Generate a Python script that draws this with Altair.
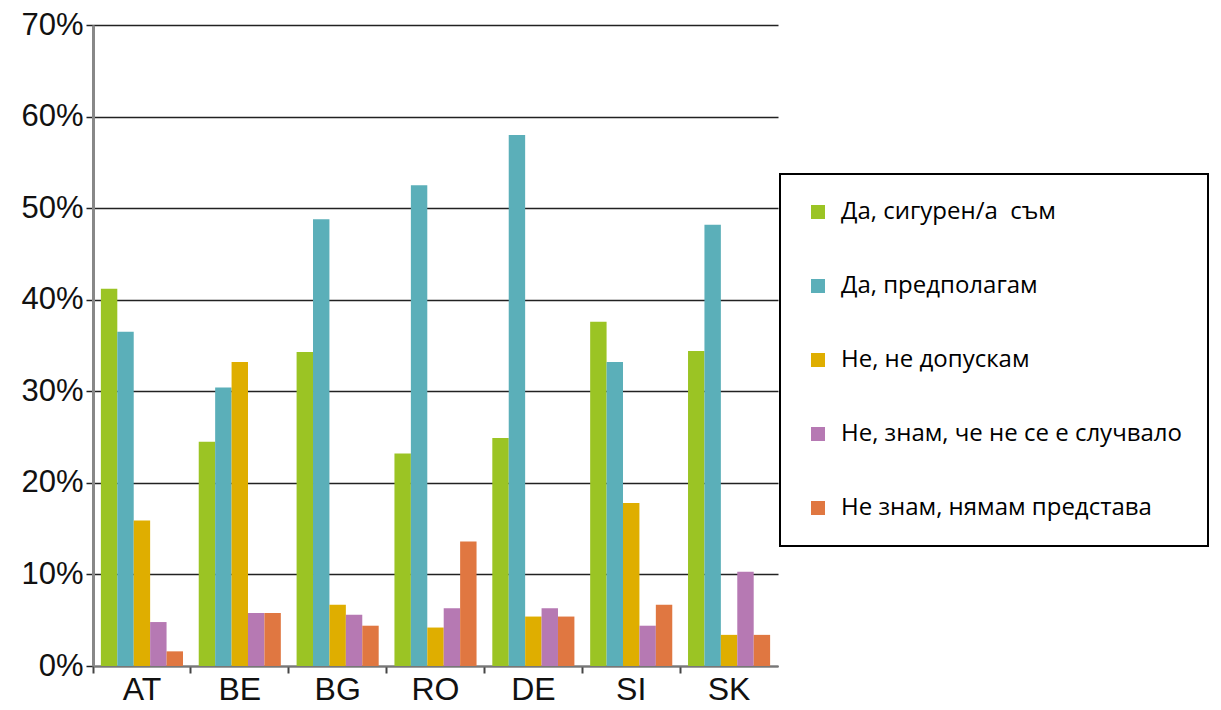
import altair as alt
import pandas as pd

countries = ["AT", "BE", "BG", "RO", "DE", "SI", "SK"]
series = [
    "Да, сигурен/а\u00a0 съм",
    "Да, предполагам",
    "Не, не допускам",
    "Не, знам, че не се е случвало",
    "Не знам, нямам представа",
]
sure_yes = [41.2, 24.5, 34.3, 23.2, 24.9, 37.6, 34.4]
suppose_yes = [36.5, 30.4, 48.8, 52.5, 58.0, 33.2, 48.2]
no_allow = [15.9, 33.2, 6.7, 4.2, 5.4, 17.8, 3.4]
no_know = [4.8, 5.8, 5.6, 6.3, 6.3, 4.4, 10.3]
dont_know = [1.6, 5.8, 4.4, 13.6, 5.4, 6.7, 3.4]
colors = ["#9BC424", "#5BAFB9", "#DFAE00", "#B679B3", "#E07741"]

values = [sure_yes, suppose_yes, no_allow, no_know, dont_know]
rows = []
for s, vals in zip(series, values):
    for c, v in zip(countries, vals):
        rows.append({"country": c, "answer": s, "value": v / 100.0})
df = pd.DataFrame(rows)

chart = (
    alt.Chart(df)
    .mark_bar()
    .encode(
        x=alt.X(
            "country:N",
            sort=countries,
            title=None,
            scale=alt.Scale(paddingInner=0, paddingOuter=0),
            axis=alt.Axis(
                labelAngle=0,
                bandPosition=0,
                labelFont="Liberation Sans",
                labelFontSize=32,
                labelColor="#111",
                labelPadding=1,
                tickSize=7,
                tickColor="#444",
                tickWidth=2,
                domainColor="#777",
                domainWidth=2,
                grid=False,
            ),
        ),
        xOffset=alt.XOffset(
            "answer:N",
            sort=series,
            scale=alt.Scale(paddingInner=0, paddingOuter=0.48),
        ),
        y=alt.Y(
            "value:Q",
            title=None,
            scale=alt.Scale(domain=[0, 0.7], nice=False),
            axis=alt.Axis(
                format=".0%",
                values=[0, 0.1, 0.2, 0.3, 0.4, 0.5, 0.6, 0.7],
                labelFont="Liberation Sans",
                labelFontSize=31,
                labelColor="#111",
                labelPadding=3,
                tickSize=7,
                tickColor="#222",
                tickWidth=1.5,
                domainColor="#888",
                domainWidth=3,
                grid=True,
                gridColor="#222",
                gridWidth=1.5,
            ),
        ),
        color=alt.Color(
            "answer:N",
            sort=series,
            scale=alt.Scale(domain=series, range=colors),
            legend=alt.Legend(
                title=None,
                orient="none",
                legendX=687,
                legendY=149,
                symbolType="square",
                symbolSize=196,
                symbolStrokeWidth=0,
                symbolOpacity=1,
                labelFont="Open Sans",
                labelFontSize=24,
                labelColor="#000",
                labelLimit=600,
                labelOffset=11,
                rowPadding=50,
                padding=26,
                strokeColor="#000",
            ),
        ),
    )
    .properties(
        width=685,
        height=641,
        autosize=alt.AutoSizeParams(type="none"),
        padding={"left": 85, "top": 17, "right": 435, "bottom": 40},
    )
    .configure_view(stroke=None)
    .configure_legend(strokeWidth=2)
)

chart.save("out.html", embed_options={"renderer": "svg", "actions": False})
